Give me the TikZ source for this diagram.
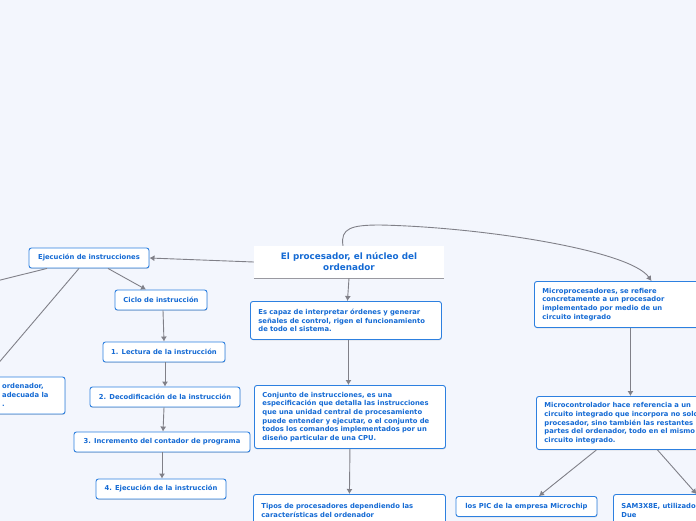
\documentclass[tikz,border=0pt]{standalone}
\usepackage{fontspec}
\setmainfont{DejaVu Sans}
\usetikzlibrary{arrows.meta,shadows,calc}
\definecolor{bgc}{RGB}{243,246,253}
\definecolor{txtblue}{RGB}{20,106,212}
\definecolor{boxblue}{RGB}{45,128,224}
\definecolor{connc}{RGB}{128,128,136}
\tikzset{
  boxnode/.style={draw=boxblue, fill=white, rounded corners=2.5pt, line width=0.9pt,
    text=txtblue, font=\fontsize{6.8}{8.7}\selectfont\bfseries,
    drop shadow={shadow xshift=0.4pt, shadow yshift=-0.9pt, opacity=0.3, fill=gray},
    inner xsep=8pt, inner ysep=3pt},
  onebox/.style={boxnode, minimum height=20pt, align=center, inner xsep=2pt},
  multibox/.style={boxnode, align=left, anchor=north west},
  conn/.style={draw=connc, line width=0.9pt},
  arr/.style={conn, -{Latex[length=5pt,width=6pt]}},
}
\begin{document}
\begin{tikzpicture}[x=1pt,y=-1pt]
\useasboundingbox (0,0) rectangle (696,520);
\clip (0,0) rectangle (696,520);
\fill[bgc] (-5,-5) rectangle (701,525);

% central title
\node[fill=white, minimum width=190pt, minimum height=32pt, text=txtblue,
      font=\fontsize{8.8}{11}\selectfont\bfseries, align=center, inner sep=0pt]
      (title) at (349,262) {El procesador, el núcleo del\\ordenador};
\draw[draw=connc!80, line width=0.8pt] (title.south west) -- (title.south east);

% left branch
\node[onebox, minimum width=120pt] (ej) at (89,258) {Ejecución de instrucciones};
\node[onebox, minimum width=92pt] (ciclo) at (161,300) {Ciclo de instrucción};
\node[onebox, minimum width=122pt] (lect) at (164,352) {1. Lectura de la instrucción};
\node[onebox, minimum width=150pt] (deco) at (165,397) {2. Decodificación de la instrucción};
\node[onebox, minimum width=176pt] (incr) at (162,442) {3. Incremento del contador de programa};
\node[onebox, minimum width=130pt] (ejec) at (161,489) {4. Ejecución de la instrucción};

\node[boxnode, minimum width=156pt, minimum height=37pt] (leftbox) at (-13,395.5) {};
\node[text=txtblue, font=\fontsize{6.8}{8.7}\selectfont\bfseries, align=left,
      anchor=west, inner sep=0pt] (lefttext) at (2,395) {ordenador,\\adecuada la\\.};
\coordinate (offA) at (-40,290);

% center column
\node[multibox, text width=175pt, minimum height=38pt] (escapaz) at (250,301)
  {Es capaz de interpretar órdenes y generar\\señales de control, rigen el funcionamiento\\de todo el sistema.};
\node[multibox, text width=175pt, minimum height=63pt] (conj) at (254,385)
  {Conjunto de instrucciones, es una\\especificación que detalla las instrucciones\\que una unidad central de procesamiento\\puede entender y ejecutar, o el conjunto de\\todos los comandos implementados por un\\diseño particular de una CPU.};
\node[multibox, text width=176pt] (tipos) at (253,494)
  {\rule{0pt}{11.5pt}Tipos de procesadores dependiendo las\\características del ordenador\\[6pt]~};

% right column
\node[multibox, text width=170pt, minimum height=46pt] (micro) at (534,281)
  {Microprocesadores, se refiere\\concretamente a un procesador\\implementado por medio de un\\circuito integrado};
\node[multibox, text width=180pt, minimum height=53pt] (mc) at (536,396)
  {\rule{0pt}{6pt}Microcontrolador hace referencia a un\\circuito integrado que incorpora no solo el\\procesador, sino también las restantes\\partes del ordenador, todo en el mismo\\circuito integrado.};
\node[onebox, minimum width=141pt] (pic) at (526.5,506.5) {los PIC de la empresa Microchip};
\node[multibox, text width=174pt] (sam) at (613,494)
  {\rule{0pt}{11.5pt}SAM3X8E, utilizado en el Arduino\\Due\\[6pt]~};

% connectors
\draw[arr] (title.west) -- (ej.east);
\draw[arr] ([xshift=19pt]ej.south) -- ([xshift=-15pt]ciclo.north);
\draw[conn] ([xshift=-42pt]ej.south) -- (offA);
\draw[arr] ([xshift=-10pt]ej.south) -- (leftbox.north);
\draw[arr] ([xshift=2pt]ciclo.south) -- (lect.north);
\draw[arr] ([xshift=1pt]lect.south) -- (deco.north);
\draw[arr] ([xshift=-1pt]deco.south) -- ([xshift=1pt]incr.north);
\draw[arr] (incr.south) -- ([xshift=1pt]ejec.north);

\draw[arr] (title.south) -- ([xshift=1.5pt]escapaz.north);
\draw[arr] ([xshift=2.5pt]escapaz.south) -- ([xshift=-1.5pt]conj.north);
\draw[arr] (conj.south) -- (tipos.north);

\coordinate (cv) at (380,225);
\draw[arr] ([xshift=-6pt]title.north) .. controls (340,228) and (352,225) .. (cv)
   .. controls (480,227) and (630,250) .. ([xshift=24pt]micro.north);
\draw[arr] ([xshift=3pt]micro.south) -- ([xshift=-4pt]mc.north);
\draw[arr] ([xshift=-38pt]mc.south) -- ([xshift=12.5pt]pic.north);
\draw[arr] ([xshift=23pt]mc.south) -- ([xshift=-12pt]sam.north);
\end{tikzpicture}
\end{document}
